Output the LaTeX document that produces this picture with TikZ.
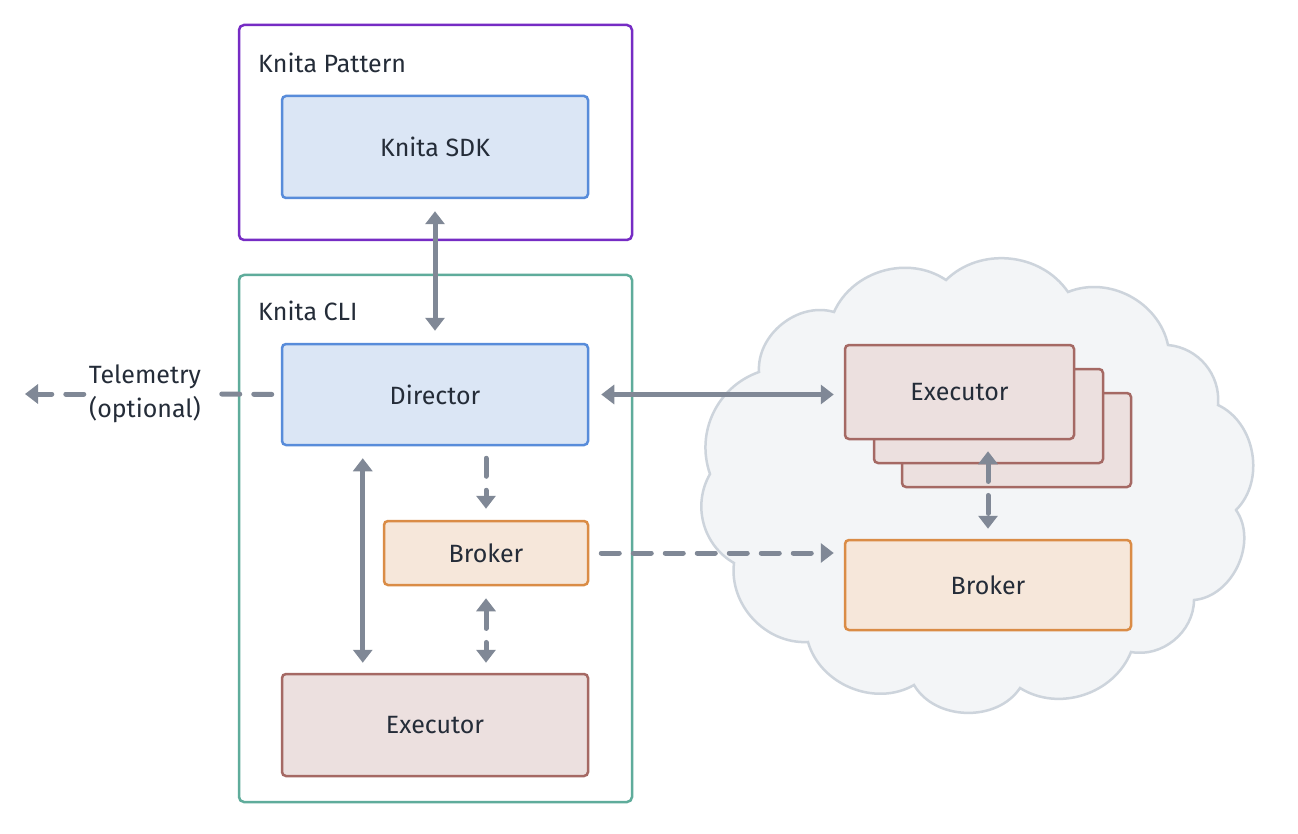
\documentclass[tikz,border=0pt]{standalone}
\usepackage{fontspec}
\setmainfont{Fira Sans}
\usetikzlibrary{arrows.meta}
\definecolor{txt}{RGB}{36,44,56}
\definecolor{purp}{RGB}{118,44,196}
\definecolor{teal}{RGB}{95,172,155}
\definecolor{bluS}{RGB}{88,140,218}
\definecolor{bluF}{RGB}{219,230,245}
\definecolor{oraS}{RGB}{218,140,70}
\definecolor{oraF}{RGB}{246,231,218}
\definecolor{redS}{RGB}{165,105,100}
\definecolor{redF}{RGB}{236,224,223}
\definecolor{agray}{RGB}{128,136,150}
\definecolor{cloudF}{RGB}{243,245,247}
\definecolor{cloudS}{RGB}{205,212,220}
\begin{document}
\begin{tikzpicture}[x=1pt,y=-1pt,
  font=\fontsize{25}{30}\selectfont, text=txt,
  box/.style={draw, line width=2.5pt, rounded corners=4pt, align=center, inner sep=0pt},
  bluebox/.style={box, draw=bluS, fill=bluF},
  orabox/.style={box, draw=oraS, fill=oraF},
  redbox/.style={box, draw=redS, fill=redF},
  container/.style={draw=#1, line width=2.5pt, rounded corners=5pt, inner sep=0pt},
  title/.style={anchor=west, inner sep=0pt},
  arr/.style={draw=agray, line width=5pt, {Triangle[width=19pt,length=13pt]}-{Triangle[width=19pt,length=13pt]}},
  darr/.style={draw=agray, line width=5pt, line cap=round, dash pattern=on 18pt off 14pt},
]
\useasboundingbox (0,0) rectangle (1298,834);
\fill[white] (0,0) rectangle (1298,834);

% cloud
\coordinate (c1) at (759,372);
\coordinate (c2) at (834,312);
\coordinate (c3) at (946,280);
\coordinate (c4) at (1068,292);
\coordinate (c5) at (1168,345);
\coordinate (c6) at (1218,405);
\coordinate (c7) at (1236,510);
\coordinate (c8) at (1194,600);
\coordinate (c9) at (1131,652);
\coordinate (c10) at (1020,688);
\coordinate (c11) at (914,685);
\coordinate (c12) at (808,642);
\coordinate (c13) at (734,563);
\coordinate (c14) at (710,474);
\draw[draw=cloudS, fill=cloudF, line width=2.5pt]
  (c1) to[bend left=55] (c2) to[bend left=50] (c3) to[bend left=50] (c4)
  to[bend left=50] (c5) to[bend left=45] (c6) to[bend left=55] (c7)
  to[bend left=60] (c8) to[bend left=50] (c9) to[bend left=50] (c10)
  to[bend left=58] (c11) to[bend left=52] (c12) to[bend left=50] (c13)
  to[bend left=45] (c14) to[bend left=45] (c1) -- cycle;

% containers
\node[container=purp, minimum width=393pt, minimum height=215pt] (pat) at (435.5,132.5) {};
\node[title] (patt) at (258,63) {Knita Pattern};
\node[container=teal, minimum width=393pt, minimum height=527pt] (cli) at (435.5,538.5) {};
\node[title] (clit) at (258,311) {Knita CLI};

% nodes
\node[bluebox, minimum width=306pt, minimum height=102pt] (sdk) at (435,147) {Knita SDK};
\node[bluebox, minimum width=306pt, minimum height=101pt] (dir) at (435,394.5) {Director};
\node[orabox, minimum width=204pt, minimum height=64pt] (brk) at (486,553) {Broker};
\node[redbox, minimum width=306pt, minimum height=102pt] (exe) at (435,725) {Executor};

\node[redbox, minimum width=229pt, minimum height=94pt] (ce3) at (1016.5,440) {};
\node[redbox, minimum width=229pt, minimum height=94pt] (ce2) at (988.5,416) {};
\node[redbox, minimum width=229pt, minimum height=94pt] (ce1) at (959.5,392) {Executor};
\node[orabox, minimum width=286pt, minimum height=90pt] (cb) at (988,585) {Broker};

\node[align=center, inner sep=0pt, font=\fontsize{25}{34}\selectfont] (tel) at (145,394) {Telemetry\\(optional)};
\coordinate (telend) at (25,394);

% connectors
\draw[arr, shorten <=12pt, shorten >=12pt] (sdk.south) -- (dir.north);
\draw[arr, shorten <=12pt, shorten >=10pt] (dir.east) -- (dir.east -| ce1.west);
\draw[arr, shorten <=12pt, shorten >=10pt] ([xshift=82pt]dir.south west) -- ([xshift=82pt]exe.north west);
\draw[darr, -{Triangle[width=19pt,length=13pt]}, shorten <=12pt, shorten >=11pt] (dir.south -| brk.north) -- (brk.north);
\draw[darr, {Triangle[width=19pt,length=13pt]}-{Triangle[width=19pt,length=13pt]}, shorten <=12pt, shorten >=10pt] (brk.south) -- (brk.south |- exe.north);
\draw[darr, -{Triangle[width=19pt,length=13pt]}, shorten <=12pt, shorten >=10pt] (brk.east) -- (brk.east -| cb.west);
\draw[darr, {Triangle[width=19pt,length=13pt]}-{Triangle[width=19pt,length=13pt]}, shorten <=11pt, shorten >=10pt] (cb.north |- ce1.south) -- (cb.north);
\draw[darr, shorten <=9pt] (dir.west) -- ([xshift=16pt]tel.east);
\draw[darr, -{Triangle[width=19pt,length=13pt]}, shorten <=5pt] (tel.west) -- (telend);
\end{tikzpicture}
\end{document}
